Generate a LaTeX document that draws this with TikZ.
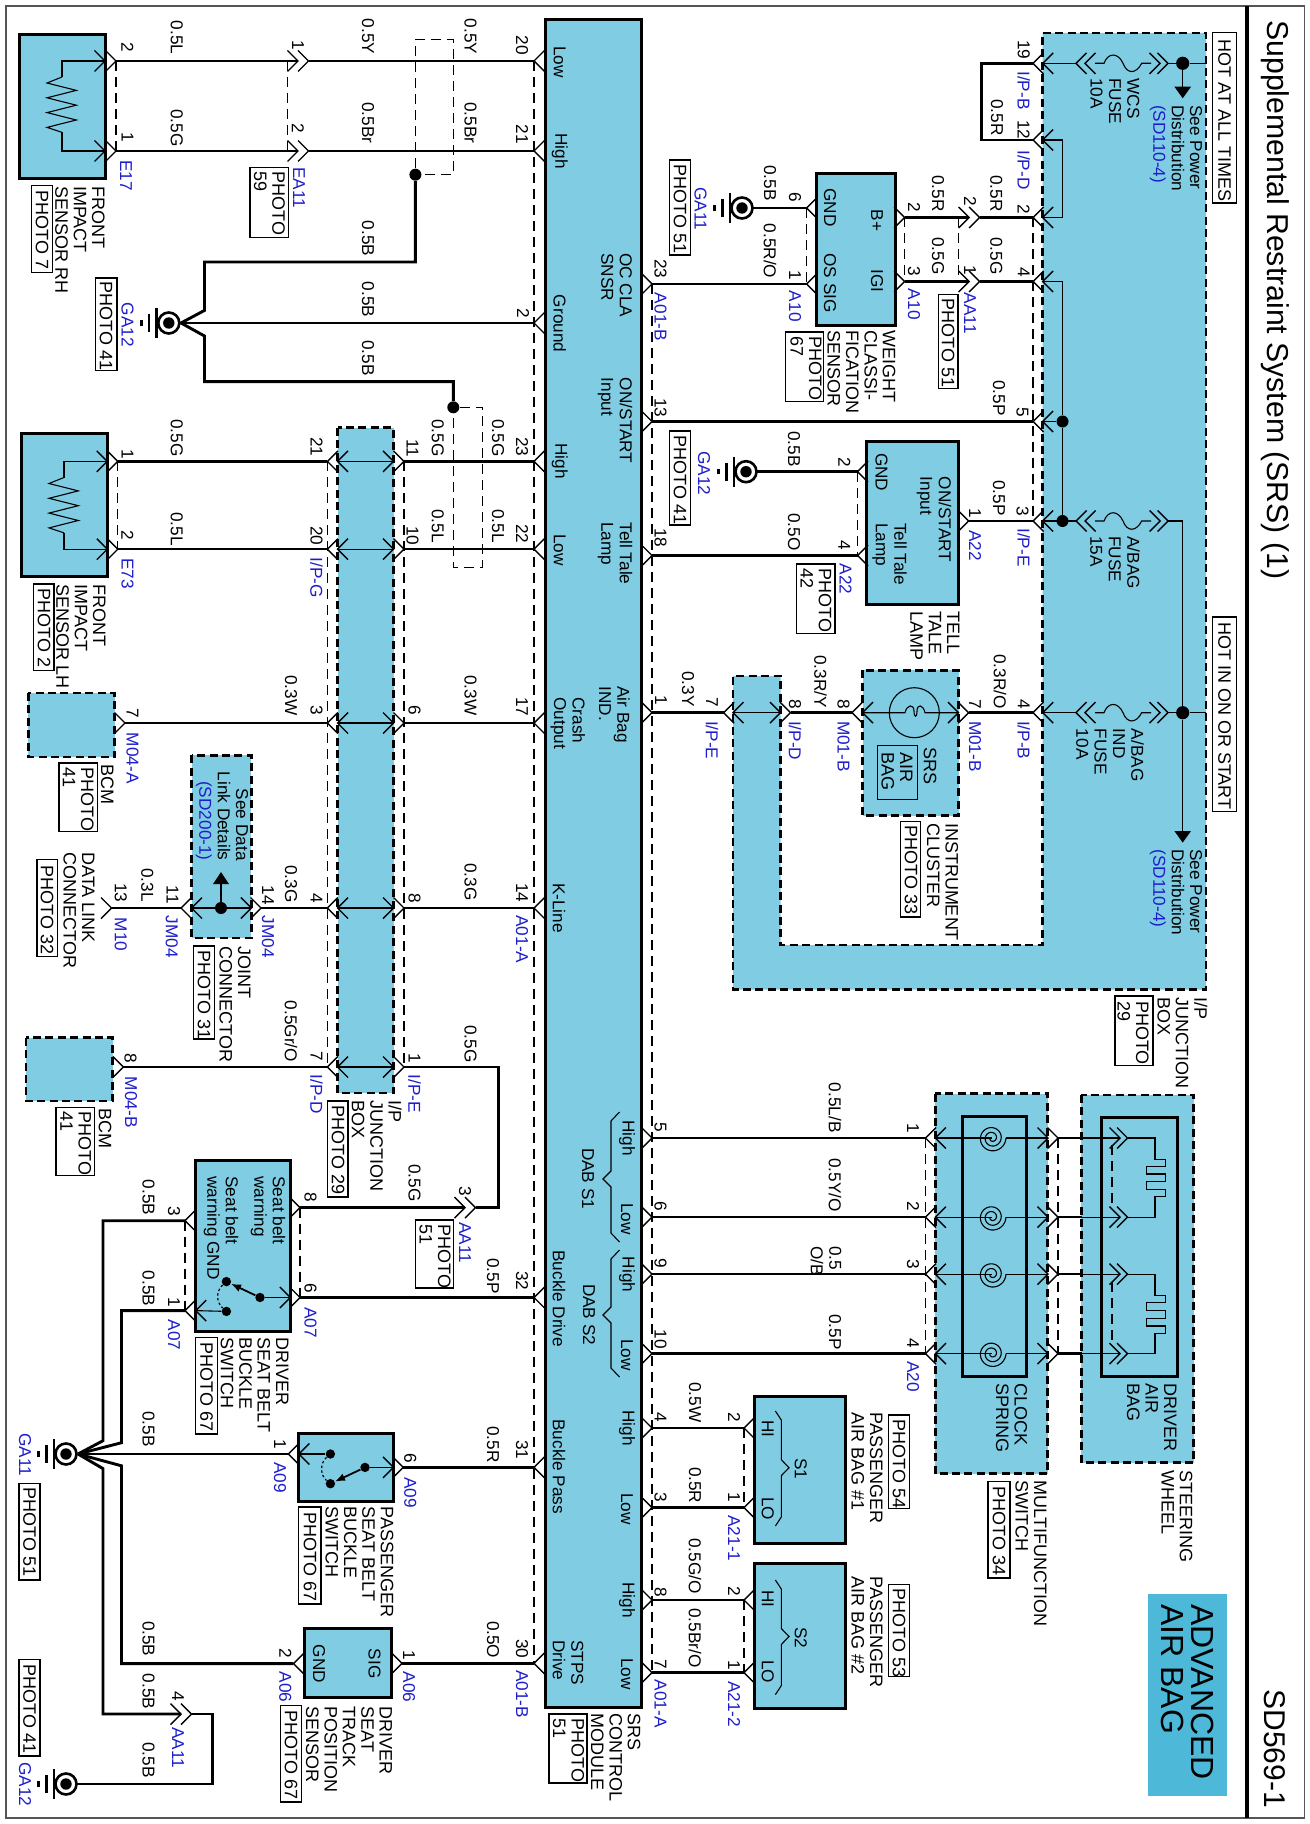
\documentclass[tikz,border=0pt]{standalone}
\usepackage{fontspec}
\usetikzlibrary{arrows.meta}
\setmainfont{Liberation Sans}
\definecolor{boxblue}{HTML}{7FCCE3}
\definecolor{advblue}{HTML}{4DB8D8}
\definecolor{pinblue}{HTML}{1E1ECC}
\definecolor{framegray}{HTML}{555555}
\tikzset{
 wire/.style={line width=1.25pt,line join=miter},
 gwire/.style={line width=1.45pt,line join=miter},
 thinw/.style={line width=.55pt},
 chev/.style={line width=.7pt},
 dsh/.style={line width=.55pt,dash pattern=on 5pt off 3pt},
 solidbox/.style={fill=boxblue,draw=black,line width=1.5pt},
 dashbox/.style={fill=boxblue,draw=black,line width=1.35pt,dash pattern=on 4pt off 2.2pt},
 phbox/.style={draw=black,line width=.6pt},
 txt/.style={rotate=-90,anchor=west,inner sep=0pt,align=left,text=black,font=\fontsize{8.6}{9.2}\selectfont},
 captxt/.style={txt,font=\fontsize{9}{9.2}\selectfont},
 bluetxt/.style={txt,text=pinblue},
 jdot/.style={circle,fill=black,inner sep=0pt,minimum size=6pt},
}
\newcount\lblc
\newcommand\Wl[3]{\global\advance\lblc by 1 \node[txt] (t\the\lblc) at (#1,#2) {#3};}
\newcommand\Bl[3]{\global\advance\lblc by 1 \node[bluetxt] (t\the\lblc) at (#1,#2) {#3};}
\newcommand\Cp[3]{\global\advance\lblc by 1 \node[captxt] (t\the\lblc) at (#1,#2) {#3};}
\newcommand\PB[7]{\draw[phbox] (#1,#2) rectangle (#3,#4); \Cp{#5}{#6}{#7}}
\newcommand\pinL[3]{\coordinate (#1) at (#2,#3); \draw[chev] (#1) ++(10.5,-10.5) -- (#1) -- ++(10.5,10.5);}
\newcommand\pinR[3]{\coordinate (#1) at (#2,#3); \draw[chev] (#1) ++(-10.5,-10.5) -- (#1) -- ++(-10.5,10.5);}
\newcommand\dchev[3]{\pinR{#1a}{#2}{#3}\pinR{#1b}{#2+10.5}{#3}}
\newcommand\gnd[3]{\coordinate (#1) at (#2+11,#3);
 \draw[line width=1.3pt,fill=white] (#2,#3) circle [radius=10.5];
 \fill (#2,#3) circle [radius=5.7];
 \draw[line width=1.1pt] (#2-12.3,#3-15) -- (#2-12.3,#3+15);
 \draw[line width=1.2pt] (#2-19.7,#3-9) -- (#2-19.7,#3+9);
 \draw[line width=1.6pt] (#2-27.3,#3-2.7) -- (#2-27.3,#3+2.7);}
\newcommand\fuse[2]{%
 \pinL{#1i}{1042.7}{#2}\pinL{#1l}{1076}{#2}\pinL{#1m}{1085}{#2}\pinR{#1n}{1160}{#2}\pinR{#1r}{1168}{#2}
 \draw[thinw] (#1i) -- (#1l);
 \draw[thinw] (1095,#2) -- (1104,#2) .. controls (1108,#2-11) and (1118,#2-11) .. (1123,#2) .. controls (1127,#2+11) and (1136,#2+11) .. (1141.7,#2) -- (1151,#2);}
\newcommand\zig[2]{\draw[thinw] (#1,#2) -- ++(-15,6) -- ++(29.3,7.4) -- ++(-29.3,7.4) -- ++(29.3,7.4) -- ++(-29.3,7.4) -- ++(29.3,7.4) -- ++(-29.3,7.4) -- ++(15,5);}
\newcommand\ipRow[2]{\pinL{#1a}{327.4}{#2}\pinL{#1c}{337.5}{#2}\pinR{#1d}{393.5}{#2}\pinR{#1b}{404}{#2}\draw[thinw] (#1c) -- (#1d);}
\newcommand\spiralat[1]{\draw[thinw,domain=0:900,samples=80,smooth,variable=\t,shift={(992,#1)}] plot ({(14-\t/75)*cos(\t)},{(14-\t/75)*sin(\t)});}
\newcommand\csRow[2]{\pinL{#1a}{925.5}{#2}\pinL{#1c}{935.4}{#2}\pinR{#1d}{1048}{#2}\pinR{#1b}{1058}{#2}
 \draw[thinw] (#1c) -- (992,#2); \draw[thinw] (1006,#2) -- (#1d); \spiralat{#2}
 \pinR{#1e}{1120}{#2}\pinR{#1f}{1127.5}{#2}
 \draw[wire] (#1b) -- (1081.5,#2); \draw[thinw] (1081.5,#2) -- (#1e);}
\newcommand\brc[6]{\draw[thinw] (#1,#3) -- (#2,#3+9) -- (#2,#4-8) -- (#6,#4) -- (#2,#4+8) -- (#2,#5-9) -- (#1,#5);}
\begin{document}
\begin{tikzpicture}[x=0.5pt,y=-0.5pt]
\useasboundingbox (0,0) rectangle (1310,1824);
\fill[white] (0,0) rectangle (1310,1824);
% frame
\draw[framegray,line width=.6pt] (6,6) rectangle (1304.5,1818);
\draw[line width=2.2pt] (1247,6) -- (1247,1818);
\node[txt,font=\fontsize{15.1}{16}\selectfont] (title) at (1275,20) {Supplemental Restraint System (SRS) (1)};
\node[txt,font=\fontsize{15}{16}\selectfont] (pageno) at (1275,1689) {SD569-1};
\fill[advblue] (1147.5,1594) rectangle (1226.6,1796);
\node[txt,font=\fontsize{16}{15}\selectfont] (advtxt) at (1187,1604) {ADVANCED\\AIR BAG};
% fills
\draw[solidbox] (545,20) rectangle (641,1707);
\draw[solidbox] (19.4,34.4) rectangle (105,178.7);
\draw[solidbox] (21,433.8) rectangle (107.3,576.5);
\draw[dashbox] (337.5,427.8) rectangle (393.5,1093);
\draw[dashbox] (1042.7,33) -- (1206,33) -- (1206,989.5) -- (733,989.5) -- (733,676) -- (780.5,676) -- (780.5,945) -- (1042.7,945) -- cycle;
\draw[solidbox] (816,174) rectangle (895,325.4);
\draw[solidbox] (866.7,441) rectangle (958.5,604);
\draw[dashbox] (862.5,670.4) rectangle (958.5,815.5);
\draw[dashbox] (28.2,693) rectangle (114.5,757);
\draw[dashbox] (191.5,755.4) rectangle (251.3,938);
\draw[dashbox] (26,1037.7) rectangle (112.8,1101);
\draw[solidbox] (195.7,1160.7) rectangle (290.4,1331.3);
\draw[solidbox] (298.8,1433.6) rectangle (393.5,1501.2);
\draw[solidbox] (304,1628.6) rectangle (391.4,1697.4);
\draw[dashbox] (935.4,1093.5) rectangle (1047.7,1473.8);
\draw[dashbox] (1081.4,1095) rectangle (1193.8,1462.6);
\draw[line width=1.5pt] (962.7,1116) rectangle (1026.7,1376.3);
\draw[line width=1.5pt] (1101.6,1117) rectangle (1177.4,1376);
\draw[solidbox] (754,1396) rectangle (845,1543);
\draw[solidbox] (754,1563) rectangle (845,1708.6);
% module pins
\pinL{mL20}{534}{61}\pinL{mL21}{534}{151}\pinL{mL2}{534}{323}\pinL{mL23}{534}{461.4}\pinL{mL22}{534}{549.2}
\pinL{mL17}{534}{723}\pinL{mL14}{534}{908}\pinL{mL32}{534}{1297.5}\pinL{mL31}{534}{1467.4}\pinL{mL30}{534}{1663.4}
\pinR{mR23}{652}{284}\pinR{mR13}{652}{421.5}\pinR{mR18}{652}{555.5}\pinR{mR1}{652}{712.7}
\pinR{mR5}{652}{1138}\pinR{mR6}{652}{1217.2}\pinR{mR9}{652}{1274.2}\pinR{mR10}{652}{1353.6}
\pinR{mR4}{652}{1428}\pinR{mR3}{652}{1507.6}\pinR{mR8}{652}{1600}\pinR{mR7}{652}{1672.7}
\draw[dsh] (mL20) -- (mL30);
\draw[dsh] (mR23) -- (mR7);
% front sensor RH
\pinR{eA}{116}{61}\pinR{eB}{116}{151}\pinR{eAi}{105}{61}\pinR{eBi}{105}{151}
\draw[thinw] (eAi) -- (62,61) -- (62,77); \draw[thinw] (eBi) -- (62,151) -- (62,132.5);
\zig{62}{77}
\dchev{ea}{298}{61}\dchev{eb}{298}{151}
\draw[wire] (eA) -- (eaa); \draw[wire] (eab) -- (mL20);
\draw[wire] (eB) -- (eba); \draw[wire] (ebb) -- (mL21);
\draw[dsh] (eA) -- (eB); \draw[dsh] (287.5,61) -- (287.5,151);
% ground GA12 main
\gnd{ggA}{168.8}{323}
\node[jdot] (dA) at (415.4,174.7) {};
\node[jdot] (dB) at (453.3,407.3) {};
\coordinate (ggAh) at (181,323);
\draw[gwire] (dA) -- (415.4,262) -- (204.5,262) -- (204.5,310.4) -- (ggAh) -- (204.5,336) -- (204.5,381.6) -- (453.3,381.6) -- (dB);
\draw[wire] (ggAh) -- (mL2);
\draw[dsh] (dA) -- (415.4,39.5) -- (453.3,39.5) -- (453.3,174.7) -- (dA);
\draw[dsh] (dB) -- (482.7,407.3) -- (482.7,567.4) -- (453.3,567.4) -- (dB);
% front sensor LH
\pinR{fA}{117.8}{461.4}\pinR{fB}{117.8}{549.2}\pinR{fAi}{107.3}{461.4}\pinR{fBi}{107.3}{549.2}
\draw[thinw] (fAi) -- (64,461.4) -- (64,477.5); \draw[thinw] (fBi) -- (64,549.2) -- (64,533);
\zig{64}{477.5}
% IP vertical band
\ipRow{ip1}{461.4}\ipRow{ip2}{549.2}\ipRow{ip3}{723}\ipRow{ip4}{908}\ipRow{ip5}{1067}
\draw[dsh] (ip1a) -- (ip5a); \draw[dsh] (ip1b) -- (ip5b);
\draw[wire] (fA) -- (ip1a); \draw[wire] (ip1b) -- (mL23);
\draw[wire] (fB) -- (ip2a); \draw[wire] (ip2b) -- (mL22);
\draw[dsh] (fA) -- (fB);
\pinR{bcA}{125}{723}\draw[wire] (bcA) -- (ip3a); \draw[wire] (ip3b) -- (mL17);
% joint
\pinR{mten}{111.5}{908}\pinL{jL}{181}{908}\pinL{jLi}{191.5}{908}\pinR{jRi}{251.3}{908}\pinR{jR}{261}{908}
\draw[thinw] (jLi) -- (jRi);
\node[jdot] (jD) at (221,908) {};
\draw[thinw] (jD) -- (221,884);
\fill (213,884) -- (229,884) -- (221,872) -- cycle;
\draw[wire] (mten) -- (jL); \draw[wire] (jR) -- (ip4a); \draw[wire] (ip4b) -- (mL14);
\pinR{bcB}{123.3}{1067}\draw[wire] (bcB) -- (ip5a);
% driver seat belt
\pinL{dsL3}{185}{1220.7}\pinL{dsL1}{185}{1310.6}\pinR{dsR8}{300}{1207.7}\pinR{dsR6}{300}{1297.5}
\pinL{dsLi}{195.7}{1310.6}\pinR{dsRi}{290.4}{1297.5}
\node[jdot,minimum size=4.7pt] (swA) at (260,1297.5) {};
\node[jdot,minimum size=4.7pt] (swB) at (226.4,1281.6) {};
\node[jdot,minimum size=4.7pt] (swC) at (226.4,1311.4) {};
\draw[thinw] (dsRi) -- (swA); \draw[thinw] (dsLi) -- (swC);
\draw[line width=.9pt,-{Latex[length=5pt,width=4pt]}] (swA) -- (swB);
\draw[line width=.6pt,dash pattern=on 1.2pt off 1.2pt] (swB) .. controls (216,1291) and (216,1302) .. (swC);
\draw[dsh] (dsL3) -- (dsL1); \draw[dsh] (dsR8) -- (dsR6);
\dchev{aa}{465}{1207.7}
\draw[wire] (dsR8) -- (aaa);
\draw[wire] (aab) -- (498.7,1207.7) -- (498.7,1067) -- (ip5b);
\draw[wire] (dsR6) -- (mL32);
% passenger seat belt
\pinL{psL}{288.3}{1454}\pinL{psLi}{298.8}{1454}\pinR{psR}{403.2}{1467.4}\pinR{psRi}{393.5}{1467.4}
\node[jdot,minimum size=4.7pt] (spA) at (365,1467.4) {};
\node[jdot,minimum size=4.7pt] (spB) at (330.4,1454) {};
\node[jdot,minimum size=4.7pt] (spC) at (330.4,1483.7) {};
\draw[thinw] (psLi) -- (spB); \draw[thinw] (psRi) -- (spA);
\draw[line width=.9pt,-{Latex[length=5pt,width=4pt]}] (spA) -- (spC);
\draw[line width=.6pt,dash pattern=on 1.2pt off 1.2pt] (spB) .. controls (320,1463) and (320,1475) .. (spC);
\draw[wire] (psR) -- (mL31);
% seat track
\pinL{stL}{293.4}{1663.6}\pinR{stR}{402}{1663.4}
\draw[wire] (stR) -- (mL30);
% hub GA11
\gnd{ggB}{66}{1454}
\coordinate (hub) at (78,1454);
\draw[gwire] (hub) -- (103,1440.7) -- (103,1220.7) -- (dsL3);
\draw[gwire] (hub) -- (121.5,1442.7) -- (121.5,1310.6) -- (dsL1);
\draw[gwire] (hub) -- (psL);
\dchev{ab}{181}{1714}
\draw[gwire] (hub) -- (103,1468.6) -- (103,1714) -- (aba);
\draw[gwire] (hub) -- (121.5,1465.8) -- (121.5,1663.6) -- (stL);
\gnd{ggC}{66}{1784}
\draw[gwire] (abb) -- (212.5,1714) -- (212.5,1784) -- (ggC);
% right IP box
\pinL{iB19}{1033}{63.3}\pinL{iD12}{1033}{140}\pinL{iD2}{1033}{217.5}\pinL{iD4}{1033}{281.5}
\pinL{iD5}{1033}{421.5}\pinL{iE3}{1033}{521}\pinL{iB4}{1033}{712.7}
\draw[gwire] (iB19) -- (981.6,63.3) -- (981.6,140) -- (iD12);
\pinL{iD12i}{1042.7}{140}\pinL{iD2i}{1042.7}{217.5}\pinL{iD4i}{1042.7}{281.5}\pinL{iD5i}{1042.7}{421.5}
\fuse{fw}{63.3}\fuse{fa}{521}\fuse{fi}{712.7}
\node[jdot] (busA) at (1062.5,421.5) {};
\node[jdot] (busB) at (1062.5,521) {};
\draw[thinw] (iD12i) -- (1062.5,140) -- (1062.5,217.5) -- (iD2i);
\draw[thinw] (iD4i) -- (1062.5,281.5) -- (busA) -- (busB);
\draw[thinw] (iD5i) -- (busA);
\draw[dsh] (iD2) -- (iE3);
% WCS fuse output
\node[jdot,minimum size=6.6pt] (hotA) at (1182.7,63.3) {};
\draw[thinw] (fwr) -- (hotA) -- (1206,63.3);
\draw[thinw] (hotA) -- (1182.7,86.7);
\fill (1174.4,86.7) -- (1191,86.7) -- (1182.7,98.3) -- cycle;
% A/BAG fuse out
\node[jdot,minimum size=6.6pt] (hotB) at (1182.7,712.7) {};
\draw[thinw] (far) -- (1182.7,521) -- (hotB) -- (1182.7,831);
\fill (1174.4,831) -- (1191,831) -- (1182.7,842.6) -- cycle;
\draw[thinw] (fir) -- (hotB) -- (1206,712.7);
% weight sensor
\pinL{wL6}{806.6}{208}\pinL{wL1}{806.6}{284}\pinR{wR2}{904.6}{217.5}\pinR{wR3}{904.6}{281.5}
\dchev{ac}{969}{217.5}\dchev{ad}{969}{281.5}
\draw[wire] (wR2) -- (aca); \draw[wire] (acb) -- (iD2);
\draw[wire] (wR3) -- (ada); \draw[wire] (adb) -- (iD4);
\draw[dsh] (wR2) -- (wR3); \draw[dsh] (958.5,217.5) -- (958.5,281.5); \draw[dsh] (wL6) -- (wL1);
\gnd{ggD}{742}{208}
\draw[gwire] (ggD) -- (wL6);
\draw[wire] (mR23) -- (wL1);
% row 13
\draw[wire] (mR13) -- (iD5);
% tell-tale
\pinL{tL2}{857.5}{471.7}\pinL{tL4}{857.5}{555.5}\pinR{tR1}{968.6}{521}
\gnd{ggE}{746}{471.7}
\draw[wire] (ggE) -- (tL2); \draw[wire] (mR18) -- (tL4); \draw[wire] (tR1) -- (iE3);
\draw[dsh] (tL2) -- (tL4);
% cluster row
\pinL{ieL}{723.6}{712.7}\pinL{ieLi}{733}{712.7}\pinR{ieRi}{780.5}{712.7}\pinR{ieR}{790.5}{712.7}
\draw[thinw] (ieLi) -- (ieRi);
\pinL{cL}{852}{712.7}\pinL{cLi}{862.5}{712.7}\pinR{cRi}{958.5}{712.7}\pinR{cR}{968.6}{712.7}
\draw[thinw] (914.3,712.7) circle [radius=25];
\draw[thinw] (cLi) -- (905,712.7) .. controls (907,704) and (914,704) .. (914,711) .. controls (914,718) and (917,718) .. (917,711) .. controls (917,704) and (923,704) .. (925,712.7) -- (cRi);
\draw[phbox] (877.3,745.5) rectangle (917.3,799.7);
\draw[wire] (mR1) -- (ieL); \draw[wire] (ieR) -- (cL); \draw[wire] (cR) -- (iB4);
% clock spring
\csRow{cs1}{1138}\csRow{cs2}{1217.2}\csRow{cs3}{1274.2}\csRow{cs4}{1353.6}
\draw[wire] (mR5) -- (cs1a); \draw[wire] (mR6) -- (cs2a); \draw[wire] (mR9) -- (cs3a); \draw[wire] (mR10) -- (cs4a);
\draw[dsh] (cs1a) -- (cs4a); \draw[dsh] (cs1b) -- (cs4b);
\draw[dsh] (1112,1145) -- (1112,1208); \draw[dsh] (1112,1282) -- (1112,1345);
\draw[thinw] (cs1f) -- (1155,1138) -- (1155,1159.3) -- (1165.7,1159.3) -- (1165.7,1166.7) -- (1146.7,1166.7) -- (1146.7,1174) -- (1165.7,1174) -- (1165.7,1181.7) -- (1146.7,1181.7) -- (1146.7,1189.3) -- (1165.7,1189.3) -- (1165.7,1196.7) -- (1155,1196.7) -- (1155,1217.2) -- (cs2f);
\draw[thinw] (cs3f) -- (1155,1274.2) -- (1155,1295.7) -- (1165.7,1295.7) -- (1165.7,1302.7) -- (1146.7,1302.7) -- (1146.7,1310.7) -- (1165.7,1310.7) -- (1165.7,1318.3) -- (1146.7,1318.3) -- (1146.7,1326) -- (1165.7,1326) -- (1165.7,1333.3) -- (1155,1333.3) -- (1155,1353.6) -- (cs4f);
% passenger air bags
\pinL{pa2}{744}{1428}\pinL{pa1}{744}{1507.6}\pinL{pb2}{744}{1600}\pinL{pb1}{744}{1672.7}
\draw[wire] (mR4) -- (pa2); \draw[wire] (mR3) -- (pa1); \draw[wire] (mR8) -- (pb2); \draw[wire] (mR7) -- (pb1);
\draw[dsh] (pa2) -- (pa1); \draw[dsh] (pb2) -- (pb1);
\brc{775.4}{781.3}{1411}{1467.7}{1526}{789}
\brc{775.4}{781.3}{1580}{1636.5}{1694.6}{789}
% module braces
\brc{619.5}{611}{1112}{1179}{1242}{603}
\brc{619.5}{611}{1250}{1315}{1377}{603}
% ---------- TEXT ----------
% module
\Wl{559.8}{46}{Low}\Wl{559.8}{133}{High}\Wl{559.8}{294.6}{Ground}\Wl{559.8}{443}{High}\Wl{559.8}{534}{Low}
\Wl{567.8}{697}{Crash\\Output}\Wl{559}{882.7}{K-Line}\Wl{559}{1250}{Buckle Drive}\Wl{559}{1419}{Buckle Pass}\Wl{568}{1640}{STPS\\Drive}
\Wl{616.6}{253}{OC CLA\\SNSR}\Wl{615}{377.6}{ON/START\\Input}\Wl{615}{522}{Tell Tale\\Lamp}\Wl{614.5}{686}{Air Bag\\IND.}
\Wl{627}{1120}{High}\Wl{588}{1147.6}{DAB S1}\Wl{627}{1203}{Low}\Wl{627}{1256.5}{High}\Wl{589}{1283.6}{DAB S2}\Wl{627}{1339}{Low}
\Wl{627}{1410}{High}\Wl{627}{1493}{Low}\Wl{627}{1582}{High}\Wl{627}{1657.6}{Low}
\Cp{615.7}{1713.3}{SRS\\CONTROL\\MODULE}
\PB{549}{1714}{587}{1783}{568.6}{1718}{PHOTO\\51}
% left sensor
\Wl{127.5}{42}{2}\Wl{127.5}{132.5}{1}\Wl{176.8}{20.6}{0.5L}\Wl{176.8}{108.7}{0.5G}
\Wl{298}{40}{1}\Wl{298}{123}{2}\Wl{368}{18.6}{0.5Y}\Wl{368}{102}{0.5Br}\Wl{470.5}{18.6}{0.5Y}\Wl{470.5}{102}{0.5Br}
\Wl{522}{35.6}{20}\Wl{522}{124.6}{21}\Wl{523}{308.4}{2}
\Bl{126}{160}{E17}\Bl{299}{167}{EA11}
\PB{250}{167.3}{288.7}{237.2}{269.4}{171}{PHOTO\\59}
\Cp{80}{185.8}{FRONT\\IMPACT\\SENSOR RH}
\PB{31.6}{185.8}{52.6}{272.8}{42}{190}{PHOTO 7}
\Wl{368}{220.6}{0.5B}\Wl{368}{281.5}{0.5B}\Wl{368}{340}{0.5B}
\Bl{127.5}{302.5}{GA12}
\PB{95.5}{278}{117}{370.5}{106}{281.5}{PHOTO 41}
\Wl{127.5}{449}{1}\Wl{127.5}{530}{2}\Wl{176.8}{419}{0.5G}\Wl{176.8}{512}{0.5L}
\Wl{316.5}{437}{21}\Wl{316.5}{526}{20}\Bl{316.5}{557.5}{I/P-G}\Wl{412.5}{439}{11}\Wl{412.5}{526}{10}
\Wl{437.7}{419}{0.5G}\Wl{437.7}{509}{0.5L}\Wl{498}{419}{0.5G}\Wl{498}{509}{0.5L}\Wl{522}{437}{23}\Wl{522}{524}{22}
\Bl{127.5}{558}{E73}
\Cp{81}{584.4}{FRONT\\IMPACT\\SENSOR LH}
\PB{33.7}{584}{53.9}{670.4}{44}{588}{PHOTO 2}
% BCM A
\Wl{132.6}{708}{7}\Bl{132.6}{732.5}{M04-A}\Cp{107.3}{764}{BCM}
\PB{59}{763}{97.6}{831.3}{78.3}{767}{PHOTO\\41}
\Wl{291}{675}{0.3W}\Wl{316.5}{705}{3}\Wl{414.6}{705}{6}\Wl{470.5}{675}{0.3W}\Wl{522}{697}{17}
% joint
\global\advance\lblc by 1 \node[txt,anchor=east,align=right] (seeData) at (222,861) {See Data\\Link Details\\\textcolor{pinblue}{(SD200-1)}};
\Wl{120.8}{882.7}{13}\Bl{120.8}{917.5}{M10}\Wl{147.3}{868}{0.3L}\Wl{172.6}{885.5}{11}\Bl{171.7}{915.5}{JM04}
\Wl{268}{885.5}{14}\Bl{268}{915.5}{JM04}\Wl{291}{865}{0.3G}\Wl{316.5}{892.6}{4}\Wl{414.6}{892.6}{8}\Wl{470.5}{863}{0.3G}\Wl{522}{882.7}{14}\Bl{522}{915}{A01-A}
\Cp{79}{852}{DATA LINK\\CONNECTOR}
\PB{37}{859.8}{57.7}{956.7}{47}{865}{PHOTO 32}
\Cp{235}{946}{JOINT\\CONNECTOR}
\PB{193.6}{946}{214.6}{1039}{204}{950}{PHOTO 31}
% BCM B
\Wl{130.5}{1052.7}{8}\Bl{131}{1076.5}{M04-B}\Cp{105}{1108}{BCM}
\PB{56}{1107.3}{94.7}{1175.3}{75.8}{1111}{PHOTO\\41}
\Wl{291}{1000.5}{0.5Gr/O}\Wl{316.5}{1050.8}{7}\Bl{316.5}{1074.5}{I/P-D}\Wl{414.6}{1052.7}{1}\Bl{414.6}{1074.5}{I/P-E}\Wl{470.5}{1025}{0.5G}
\Cp{376.7}{1100}{I/P\\JUNCTION\\BOX}
\PB{327.4}{1101}{348}{1197}{338}{1105}{PHOTO 29}
% driver belt
\Wl{310.6}{1192}{8}\Wl{414.6}{1164}{0.5G}\Wl{465}{1186.4}{3}\Bl{465}{1222}{AA11}
\PB{415.4}{1220}{453.7}{1288}{435}{1224}{PHOTO\\51}
\Wl{268}{1176}{Seat belt\\warning}\Wl{221}{1176}{Seat belt\\warning GND}
\Wl{148.6}{1179.3}{0.5B}\Wl{148.6}{1270.4}{0.5B}\Wl{174}{1206}{3}\Wl{174}{1297.5}{1}\Bl{174}{1319.4}{A07}
\Wl{310.6}{1283}{6}\Bl{310.6}{1306.6}{A07}\Wl{493}{1257.7}{0.5P}\Wl{522}{1271}{32}
\Cp{254.6}{1337.3}{DRIVER\\SEAT BELT\\BUCKLE\\SWITCH}
\PB{195.7}{1337.3}{217.6}{1434}{206.6}{1342.5}{PHOTO 67}
% passenger belt
\Wl{280}{1439}{1}\Bl{280}{1462}{A09}\Wl{410.4}{1452.7}{6}\Bl{410.4}{1476.6}{A09}\Wl{493}{1426}{0.5R}\Wl{522}{1440}{31}\Wl{148.6}{1411}{0.5B}
\Bl{25}{1432.8}{GA11}
\PB{19}{1483.3}{40}{1580}{29.5}{1487}{PHOTO 51}
\Cp{359.4}{1506.4}{PASSENGER\\SEAT BELT\\BUCKLE\\SWITCH}
\PB{298.8}{1507}{321}{1604}{310}{1512.4}{PHOTO 67}
% seat track
\Wl{374.6}{1648.5}{SIG}\Wl{319}{1644.5}{GND}\Wl{285.4}{1647.7}{2}\Bl{285.4}{1671.5}{A06}\Wl{409}{1649.7}{1}\Bl{409}{1671.5}{A06}
\Wl{493}{1620.6}{0.5O}\Wl{522}{1639}{30}\Bl{522}{1669.6}{A01-B}
\Cp{349}{1706}{DRIVER\\SEAT\\TRACK\\POSITION\\SENSOR}
\PB{280.7}{1705.4}{301.8}{1802}{291}{1710}{PHOTO 67}
\Wl{148.6}{1620.6}{0.5B}\Wl{148.6}{1673.5}{0.5B}\Wl{148.6}{1742}{0.5B}\Wl{178}{1691.5}{4}\Bl{178}{1727}{AA11}
\PB{19}{1659.6}{40}{1756}{29.5}{1664.4}{PHOTO 41}
\Bl{25}{1762}{GA12}
% right IP box labels
\PB{1212.7}{32.4}{1236.3}{203}{1224.5}{39.5}{HOT AT ALL TIMES}
\PB{1212.7}{617}{1236.3}{811.5}{1224.5}{621.7}{HOT IN ON OR START}
\Wl{1176}{104.8}{See Power\\Distribution\\\textcolor{pinblue}{(SD110-4)}}
\Wl{1176}{849}{See Power\\Distribution\\\textcolor{pinblue}{(SD110-4)}}
\Wl{1115}{78}{WCS\\FUSE\\10A}\Wl{1115}{536}{A/BAG\\FUSE\\15A}\Wl{1110}{728.5}{A/BAG\\IND\\FUSE\\10A}
\Wl{1023.7}{40}{19}\Bl{1023.7}{71}{I/P-B}\Wl{1023.7}{120}{12}\Bl{1023.7}{150}{I/P-D}\Wl{1023.7}{204}{2}\Wl{1023.7}{267}{4}
\Wl{997}{99}{0.5R}\Wl{996.4}{175}{0.5R}\Wl{996.4}{237}{0.5G}
\Wl{1022.5}{407}{5}\Wl{999}{380}{0.5P}\Wl{1022.5}{506}{3}\Wl{999}{480}{0.5P}\Bl{1023.7}{528}{I/P-E}
\Wl{1023.7}{699}{4}\Wl{1000}{654}{0.3R/O}\Bl{1023.7}{720.6}{I/P-B}
% weight
\Wl{830}{188}{GND}\Wl{830}{253}{OS SIG}\Wl{877}{209.6}{B+}\Wl{877}{269}{IGI}
\Wl{795}{192}{6}\Wl{770}{165}{0.5B}\Wl{770}{223.4}{0.5R/O}\Wl{795}{270}{1}\Bl{795}{290.6}{A10}
\Wl{914}{202}{2}\Wl{938}{175}{0.5R}\Wl{938}{237}{0.5G}\Wl{914}{265.7}{3}\Bl{914}{288.6}{A10}
\Wl{970}{196.5}{2}\Wl{970}{265}{1}\Bl{970}{292.6}{AA11}
\PB{938.3}{294.6}{958}{388.3}{948}{298.5}{PHOTO 51}
\Bl{700.5}{187}{GA11}
\PB{669.8}{160}{690.8}{255}{680}{164}{PHOTO 51}
\Cp{861.5}{330}{WEIGHT\\CLASSI-\\FICATION\\SENSOR}
\PB{785.5}{332}{823.4}{401.3}{806}{336}{PHOTO\\67}
\Wl{660.5}{259}{23}\Bl{660.5}{292.6}{A01-B}\Wl{660.5}{398}{13}\Wl{660.5}{528}{18}
% tell tale
\Wl{934}{476.5}{ON/START\\Input}\Wl{889.5}{522.7}{Tell Tale\\Lamp}\Wl{881.5}{452.7}{GND}
\PB{796.5}{564}{835}{633.6}{816}{568}{PHOTO\\42}
\Bl{845.7}{563.5}{A22}\Bl{975}{530}{A22}\Wl{844.4}{457}{2}\Wl{844.4}{540}{4}\Wl{794}{431}{0.5B}\Wl{794}{513}{0.5O}\Wl{975}{508}{1}
\Bl{704}{451}{GA12}
\PB{669.8}{431}{690.8}{525}{680}{435}{PHOTO 41}
\Cp{935}{610.7}{TELL\\TALE\\LAMP}
% cluster
\Wl{712}{697}{7}\Wl{688}{671}{0.3Y}\Wl{661}{695}{1}\Bl{712}{720.6}{I/P-E}\Wl{795}{699}{8}\Bl{795}{720.6}{I/P-D}
\Wl{820.5}{655}{0.3R/Y}\Wl{843.6}{699}{8}\Bl{843.6}{720.6}{M01-B}\Wl{975}{699}{7}\Bl{975}{720.6}{M01-B}
\Cp{930}{747}{SRS}\Cp{897}{752}{AIR\\BAG}
\Cp{942.5}{822.6}{INSTRUMENT\\CLUSTER}
\PB{900.4}{821.4}{920.2}{917}{911}{825}{PHOTO 33}
\Cp{1182.4}{997.4}{I/P\\JUNCTION\\BOX}
\PB{1115}{996}{1153}{1065.4}{1133}{1000.6}{PHOTO\\29}
% clock spring labels
\Wl{913}{1123}{1}\Wl{913}{1201}{2}\Wl{913}{1259}{3}\Wl{913}{1338.5}{4}\Bl{913}{1361}{A20}
\Wl{835}{1082.4}{0.5L/B}\Wl{835}{1158}{0.5Y/O}\Wl{826}{1245.8}{0.5\\O/B}\Wl{835}{1314}{0.5P}
\Wl{660.5}{1122}{5}\Wl{660.5}{1201}{6}\Wl{660.5}{1257.7}{9}\Wl{660.5}{1329.3}{10}\Wl{660.5}{1412}{4}\Wl{660.5}{1491.7}{3}\Wl{660.5}{1586.8}{8}\Wl{660.5}{1658.8}{7}
\Bl{660.5}{1679.5}{A01-A}
\Cp{1011.5}{1383}{CLOCK\\SPRING}\Cp{1151.7}{1383}{DRIVER\\AIR\\BAG}
\Cp{1031}{1480.5}{MULTIFUNCTION\\SWITCH}
\PB{988}{1481.3}{1010}{1578}{999}{1486.5}{PHOTO 34}
\Cp{1177}{1470}{STEERING\\WHEEL}
% passenger bags labels
\Wl{767.8}{1420}{HI}\Wl{767.8}{1497}{LO}\Wl{800.7}{1458}{S1}\Wl{767.8}{1590}{HI}\Wl{767.8}{1659.6}{LO}\Wl{800.7}{1627}{S2}
\Wl{734}{1412}{2}\Wl{734}{1492.5}{1}\Bl{734}{1515}{A21-1}\Wl{695}{1382}{0.5W}\Wl{695}{1466.6}{0.5R}\Wl{695}{1538}{0.5G/O}\Wl{695}{1608}{0.5Br/O}
\Wl{734}{1586}{2}\Wl{734}{1659.6}{1}\Bl{734}{1680.7}{A21-2}
\Cp{867}{1412}{PASSENGER\\AIR BAG \#1}
\PB{888.6}{1415}{909.7}{1508.4}{899}{1419}{PHOTO 54}
\Cp{867}{1576}{PASSENGER\\AIR BAG \#2}
\PB{888.6}{1584.4}{909.7}{1676.7}{899}{1588.4}{PHOTO 53}
\end{tikzpicture}
\end{document}
